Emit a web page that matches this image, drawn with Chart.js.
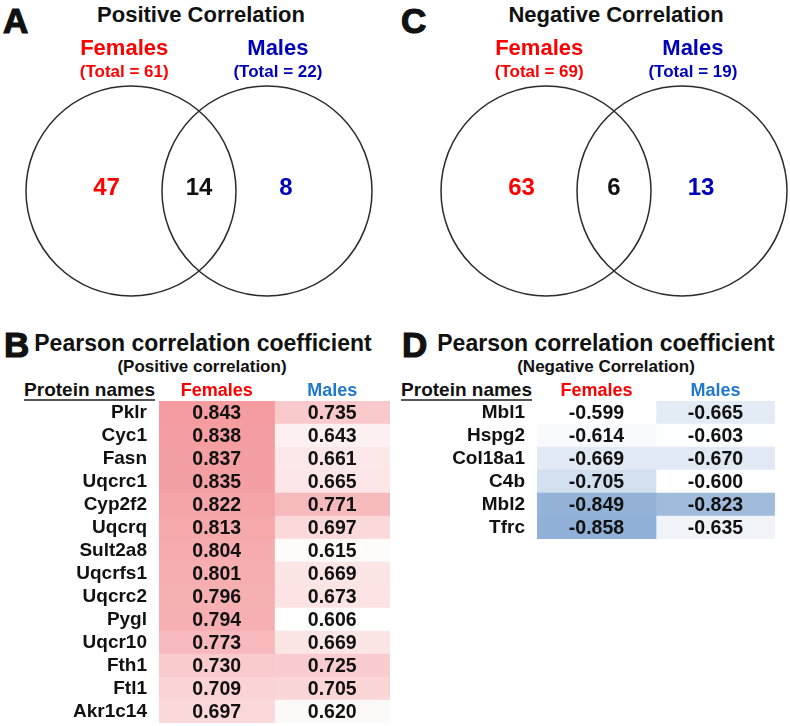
<!DOCTYPE html>
<html>
<head>
<meta charset="utf-8">
<script src="https://cdn.jsdelivr.net/npm/chart.js@4"></script>
<style>
  body { margin: 0; background: #fff; }
  #fig { position: relative; width: 790px; height: 726px; overflow: hidden; }
  #fig canvas { position: absolute; }
  .t { position: absolute; white-space: nowrap; line-height: 1; font-family: 'Liberation Sans', Arial, sans-serif; font-weight: bold; color: #111; }
  .c { transform: translateX(-50%); }
  .letter { font-size: 35px; -webkit-text-stroke: 1.2px #111; }
  .head { font-size: 22px; }
  .ttl { font-size: 23px; }
  .sub { font-size: 17px; }
  .pn { font-size: 19px; text-decoration: underline; text-decoration-color: #555; text-underline-offset: 3px; text-decoration-thickness: 2px; }
</style>
</head>
<body>
<div id="fig">
  <span class="t letter" style="left:3px;top:3px;">A</span>
  <span class="t head c" style="left:201px;top:4px;">Positive Correlation</span>
  <span class="t letter" style="left:401px;top:3px;">C</span>
  <span class="t head c" style="left:616px;top:4px;">Negative Correlation</span>

  <span class="t letter" style="left:4px;top:327px;">B</span>
  <span class="t ttl c" style="left:203px;top:332px;">Pearson correlation coefficient</span>
  <span class="t sub c" style="left:202px;top:358px;">(Positive correlation)</span>
  <span class="t pn" style="right:635px;top:380px;">Protein names</span>

  <span class="t letter" style="left:402px;top:327px;">D</span>
  <span class="t ttl c" style="left:606px;top:332px;">Pearson correlation coefficient</span>
  <span class="t sub c" style="left:606px;top:358px;">(Negative Correlation)</span>
  <span class="t pn" style="right:258px;top:380px;">Protein names</span>

  <canvas id="vennPos" width="395" height="310" style="left:0;top:0;"></canvas>
  <canvas id="vennNeg" width="395" height="310" style="left:395px;top:0;"></canvas>
  <canvas id="tablePos" width="395" height="350" style="left:0;top:376px;"></canvas>
  <canvas id="tableNeg" width="395" height="166" style="left:395px;top:376px;"></canvas>
</div>

<script>
/* ---------- data ---------- */
const vennSets = ['Females', 'Males'];
const posTotals = [61, 22];
const posCounts = [47, 14, 8];   // females only, shared, males only
const negTotals = [69, 19];
const negCounts = [63, 6, 13];

const tableColumns = ['Females', 'Males'];
const posProteins = ['Pklr', 'Cyc1', 'Fasn', 'Uqcrc1', 'Cyp2f2', 'Uqcrq', 'Sult2a8', 'Uqcrfs1', 'Uqcrc2', 'Pygl', 'Uqcr10', 'Fth1', 'Ftl1', 'Akr1c14'];
const posFemales = [0.843, 0.838, 0.837, 0.835, 0.822, 0.813, 0.804, 0.801, 0.796, 0.794, 0.773, 0.730, 0.709, 0.697];
const posMales   = [0.735, 0.643, 0.661, 0.665, 0.771, 0.697, 0.615, 0.669, 0.673, 0.606, 0.669, 0.725, 0.705, 0.620];
const negProteins = ['Mbl1', 'Hspg2', 'Col18a1', 'C4b', 'Mbl2', 'Tfrc'];
const negFemales = [-0.599, -0.614, -0.669, -0.705, -0.849, -0.858];
const negMales   = [-0.665, -0.603, -0.670, -0.600, -0.823, -0.635];

/* ---------- look ---------- */
const FONT = "'Liberation Sans', Arial, sans-serif";
const SET_COLORS = ['#ff0000', '#0000bb'];
const HEADER_COLORS = ['#ff0000', '#1f78cc'];
Chart.defaults.font.family = FONT;
Chart.defaults.animation = false;
Chart.defaults.events = [];

const RADIUS_RATIO = 105 / 136;   // circle radius relative to centre distance

function heat(from, to, lo, hi) {
  return v => {
    const t = Math.max(0, Math.min(1, (Math.abs(v) - lo) / (hi - lo)));
    const c = from.map((f, k) => Math.round(f + (to[k] - f) * t));
    return `rgb(${c.join(',')})`;
  };
}

/* ---------- venn ---------- */
const vennLabels = {
  id: 'vennLabels',
  afterDatasetsDraw(chart, args, o) {
    const { ctx, chartArea: a, scales: { x, y } } = chart;
    const x0 = x.getPixelForValue(0), x1 = x.getPixelForValue(1), u = x1 - x0;
    const cy = y.getPixelForValue(0);
    ctx.save();
    ctx.textAlign = 'center';
    ctx.textBaseline = 'alphabetic';
    [x0 - 0.05 * u, x1 + 0.08 * u].forEach((px, i) => {
      ctx.fillStyle = SET_COLORS[i];
      ctx.font = `bold 22px ${FONT}`;
      ctx.fillText(vennSets[i], px, a.top - 31);
      ctx.font = `bold 17px ${FONT}`;
      ctx.fillText(`(Total = ${o.totals[i]})`, px, a.top - 9);
    });
    ctx.font = `bold 24px ${FONT}`;
    [[x0 - 0.18 * u, SET_COLORS[0]], [(x0 + x1) / 2, '#111'], [x1 + 0.14 * u, SET_COLORS[1]]].forEach(([px, col], i) => {
      ctx.fillStyle = col;
      ctx.fillText(String(o.counts[i]), px, cy + 4);
    });
    ctx.restore();
  }
};

function buildVenn(id, counts, totals, padLeft) {
  new Chart(document.getElementById(id), {
    type: 'scatter',
    data: {
      labels: vennSets,
      datasets: [{
        data: vennSets.map(s => ({ x: s, y: 0 })),
        pointRadius: c => c.chart.chartArea ? (c.chart.chartArea.right - c.chart.chartArea.left) * RADIUS_RATIO : 0,
        pointBackgroundColor: 'rgba(0,0,0,0)',
        pointBorderColor: '#2b2b2b',
        pointBorderWidth: 1.5,
        clip: false,
      }]
    },
    options: {
      responsive: false,
      layout: { padding: { left: padLeft, right: 395 - padLeft - 136, top: 86, bottom: 14 } },
      plugins: { legend: { display: false }, tooltip: { enabled: false }, vennLabels: { counts, totals } },
      scales: {
        x: { type: 'category', labels: vennSets, offset: false, display: false },
        y: { min: -1, max: 1, display: false },
      },
    },
    plugins: [vennLabels],
  });
}

/* ---------- tables ---------- */
const cellText = {
  id: 'cellText',
  afterDatasetsDraw(chart) {
    const { ctx, chartArea: a } = chart;
    ctx.save();
    ctx.textAlign = 'center';
    chart.data.datasets.forEach((ds, di) => {
      const bars = chart.getDatasetMeta(di).data;
      ctx.font = `bold 19.5px ${FONT}`;
      ctx.fillStyle = '#111';
      ctx.textBaseline = 'middle';
      bars.forEach((bar, i) => ctx.fillText(ds.values[i].toFixed(3), (bar.base + bar.x) / 2, bar.y + 1));
      ctx.font = `bold 18px ${FONT}`;
      ctx.fillStyle = HEADER_COLORS[di];
      ctx.textBaseline = 'alphabetic';
      ctx.fillText(ds.label, (bars[0].base + bars[0].x) / 2, a.top - 5);
    });
    ctx.restore();
  }
};

function buildTable(id, proteins, females, males, color, axisWidth, padRight) {
  const cols = [females, males];
  new Chart(document.getElementById(id), {
    type: 'bar',
    data: {
      labels: proteins,
      datasets: tableColumns.map((name, k) => ({
        label: name,
        values: cols[k],
        data: cols[k].map(() => 1),          // one cell per column
        backgroundColor: c => color(cols[k][c.dataIndex]),
        borderWidth: 0,
        barPercentage: 1,
        categoryPercentage: 1,
      })),
    },
    options: {
      indexAxis: 'y',
      responsive: false,
      layout: { padding: { left: 0, right: padRight, top: 25, bottom: 3 } },
      plugins: { legend: { display: false }, tooltip: { enabled: false } },
      scales: {
        x: { stacked: true, min: 0, max: 2, display: false },
        y: {
          stacked: true,
          grid: { display: false },
          border: { display: false },
          ticks: { autoSkip: false, padding: 4, color: '#111', font: { size: 19, weight: 'bold' } },
          afterFit: s => { s.width = axisWidth; s.paddingTop = 0; s.paddingBottom = 0; },
        },
      },
    },
    plugins: [cellText],
  });
}

const posAll = posFemales.concat(posMales);
const negAll = negFemales.concat(negMales).map(Math.abs);
const redScale = heat([255, 255, 255], [244, 156, 159], Math.min(...posAll), Math.max(...posAll));
const blueScale = heat([255, 255, 255], [145, 176, 215], Math.min(...negAll), Math.max(...negAll));

buildVenn('vennPos', posCounts, posTotals, 131);
buildVenn('vennNeg', negCounts, negTotals, 151);
buildTable('tablePos', posProteins, posFemales, posMales, redScale, 159, 5);
buildTable('tableNeg', negProteins, negFemales, negMales, blueScale, 142, 15);
</script>
</body>
</html>
